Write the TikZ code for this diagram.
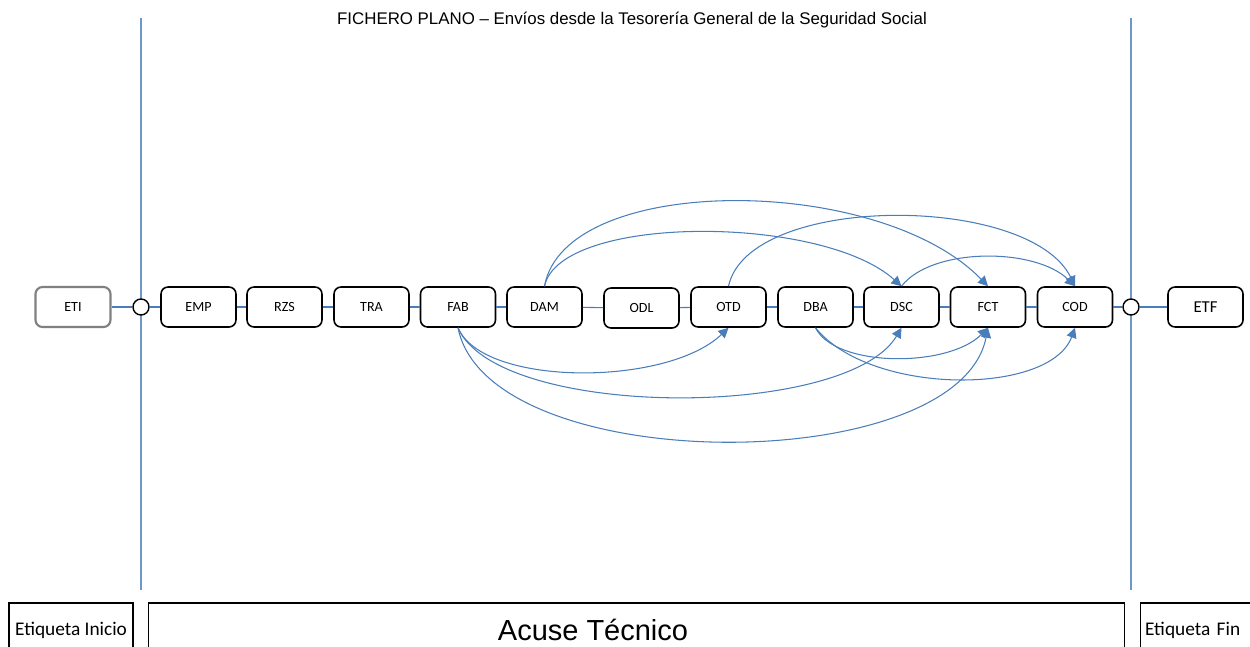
\documentclass[tikz,border=0pt]{standalone}
\usepackage{fontspec}
\setmainfont{Carlito}
\newfontfamily\arialfont{Liberation Sans}
\usetikzlibrary{arrows.meta}
\definecolor{linkblue}{HTML}{4A7EBB}

\begin{document}
\begin{tikzpicture}[x=0.02cm, y=-0.02cm,
	rec/.style={draw, rounded corners=4pt, line width=0.9pt, minimum width=1.5cm, minimum height=0.8cm, inner sep=0pt, font=\fontsize{8}{10}\selectfont},
	joint/.style={draw, circle, fill=white, line width=0.8pt, minimum size=0.32cm, inner sep=0pt},
	link/.style={color=linkblue, line width=0.6pt},
	jump/.style={link, -{Triangle[length=2mm,width=2mm]}},
	band/.style={draw, line width=0.6pt, minimum height=1.08cm, inner xsep=0.1cm}]
	\useasboundingbox (0,0) rectangle (1250,646);
	\node[font=\arialfont\fontsize{9.6}{11}\selectfont] (title) at (632,20) {FICHERO PLANO – Envíos desde la Tesorería General de la Seguridad Social};
	% separadores verticales
	\coordinate (ltop) at (141,18); \coordinate (lbot) at (141,590);
	\coordinate (rtop) at (1131,18); \coordinate (rbot) at (1131,590);
	\draw[link, color=linkblue!80] (ltop) -- (lbot);
	\draw[link, color=linkblue!80] (rtop) -- (rbot);
	% cadena de registros
	\node[rec, draw=gray, line width=1.2pt] (eti) at (73,307) {ETI};
	\node[joint] (jl) at (141,307) {};
	\foreach \n/\x/\t in {emp/198.5/EMP, rzs/284.5/RZS, tra/371.5/TRA, fab/458/FAB, dam/544.5/DAM, otd/728.5/OTD, dba/815.5/DBA, dsc/901.5/DSC, fct/988/FCT, cod/1075/COD}
		\node[rec] (\n) at (\x,307) {\t};
	\node[rec] (odl) at (641.5,308) {ODL};
	\node[joint] (jr) at (1131,307) {};
	\node[rec, font=\fontsize{9.5}{11}\selectfont] (etf) at (1205.5,307) {ETF};
	\foreach \a/\b in {eti/jl, jl/emp, emp/rzs, rzs/tra, tra/fab, fab/dam, dam/odl, odl/otd, otd/dba, dba/dsc, dsc/fct, fct/cod, cod/jr, jr/etf}
		\draw[link] (\a) -- (\b);
	% saltos por arriba
	\draw[jump] (dam.north) .. controls +(20,-113) and +(-110,-113) .. (fct.north);
	\draw[jump] (dam.north) .. controls +(15,-72) and +(-80,-72) .. (dsc.north);
	\draw[jump] (otd.north) .. controls +(20,-93) and +(-45,-93) .. (cod.north);
	\draw[jump] (dsc.north) .. controls +(30,-39) and +(-40,-39) .. (cod.north);
	% saltos por abajo
	\draw[jump] (fab.south) .. controls +(25,59) and +(-62,59) .. (otd.south);
	\draw[jump] (fab.south) .. controls +(40,92) and +(-55,92) .. (dsc.south);
	\draw[jump] (fab.south) .. controls +(30,151) and +(-30,151) .. (fct.south);
	\draw[jump] (dba.south) .. controls +(20,40) and +(-40,40) .. (fct.south);
	\draw[jump] (dba.south) .. controls +(55,68) and +(-25,68) .. (cod.south);
	% bandas inferiores
	\node[band, minimum width=2.48cm, font=\fontsize{11}{13}\selectfont] (inicio) at (71,630) {Etiqueta Inicio};
	\node[band, minimum width=19.54cm] (acusebox) at (636.5,630) {};
	\node[font=\arialfont\fontsize{16.5}{19}\selectfont] (acuse) at (593,630) {Acuse Técnico};
	\node[band, text width=2.4cm, align=left, font=\fontsize{11}{13}\selectfont] (fin) at (1205,630) {Etiqueta Fin};
\end{tikzpicture}
\end{document}
